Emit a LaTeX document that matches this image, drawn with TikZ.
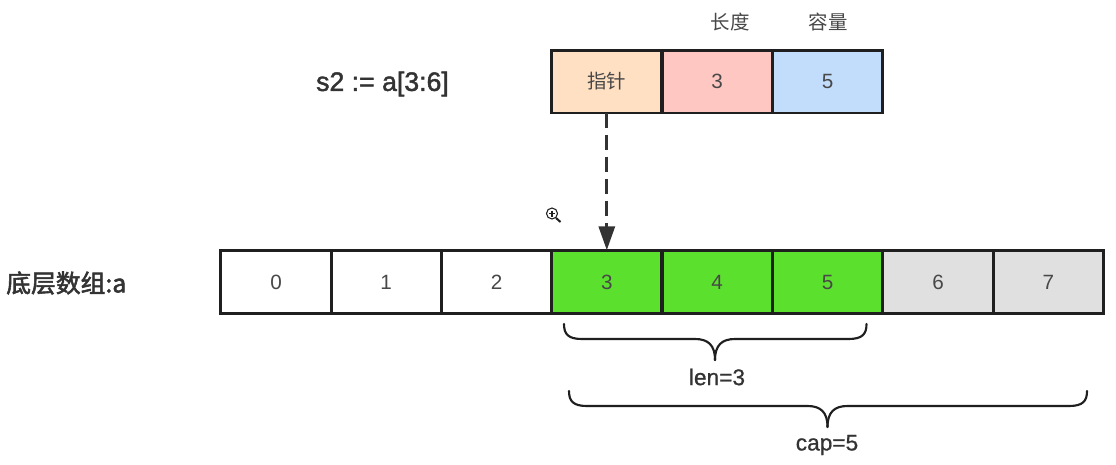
\documentclass[tikz,border=0pt]{standalone}
\usepackage{fontspec}
\setmainfont{Liberation Sans}
\newfontfamily\cjk{Noto Sans CJK SC}
\newfontfamily\cjkfat[FakeBold=2.2]{Noto Sans CJK SC}
\newfontfamily\sansfat[FakeBold=1.6]{Liberation Sans}
\newfontfamily\sansmid[FakeBold=0.8]{Liberation Sans}
\usetikzlibrary{arrows.meta}
\definecolor{ink}{HTML}{1F1F1F}
\definecolor{txt}{HTML}{484848}
\definecolor{head}{HTML}{333333}
\definecolor{peach}{HTML}{FFE0C2}
\definecolor{pinkc}{HTML}{FFC7C2}
\definecolor{bluec}{HTML}{C2DCFB}
\definecolor{greenc}{HTML}{5CE02E}
\definecolor{greyc}{HTML}{E0E0E0}
\tikzset{
  cell/.style={draw=ink,line width=2.2pt,rectangle,outer sep=0pt,inner sep=0pt,
    minimum width=82.7pt,minimum height=47.6pt,text=txt,font=\fontsize{15.5}{17}\selectfont},
  topcell/.style={cell,minimum height=47.2pt},
  cap label/.style={text=txt,inner sep=0pt,font=\cjk\fontsize{14.6}{16}\selectfont},
  side label/.style={text=head,inner sep=0pt},
  brace label/.style={text=head,inner sep=0pt,font=\sansmid\fontsize{17}{20}\selectfont},
  curly/.style={draw=ink,line width=1.6pt,line cap=round,line join=round},
  pointer/.style={draw=head,line width=2.4pt,dash pattern=on 11.25pt off 5.25pt,
    -{Triangle[length=18pt,width=12pt,color=head]}}
}
\newcommand{\curlypath}[5]{% left, right, tip x, top y, tip y
  \draw[curly] (#1,#4) .. controls (#1,#4+10) and (#1+4,#4+15) .. (#1+18,#4+15)
    -- (#3-20,#4+15) .. controls (#3-7,#4+15) and (#3,#4+21) .. (#3,#5);
  \draw[curly] (#2,#4) .. controls (#2,#4+10) and (#2-4,#4+15) .. (#2-18,#4+15)
    -- (#3+20,#4+15) .. controls (#3+7,#4+15) and (#3,#4+21) .. (#3,#5);
}
\begin{document}
\begin{tikzpicture}[x=0.75pt,y=-0.75pt]
\useasboundingbox (0,0) rectangle (1116,464);
\fill[white] (0,0) rectangle (1116,464);
% header labels
\node[cap label] (lenhead) at (730,22) {长度};
\node[cap label] (caphead) at (828,22) {容量};
\node[side label,font=\sansfat\fontsize{20}{24}\selectfont] (slice) at (382.5,84) {s2 := a[3:6]};
\node[side label,anchor=west,font=\cjkfat\fontsize{18.6}{22}\selectfont] (arr) at (6,283) {底层数组:a};
% slice header
\node[topcell,fill=peach,font=\cjk\fontsize{14.6}{16}\selectfont] (ptr) at (606.8,81.5) {指针};
\node[topcell,fill=pinkc] (hlen) at (717.2,81.5) {3};
\node[topcell,fill=bluec] (hcap) at (827.7,81.5) {5};
% array
\node[cell] (c0) at (276,282) {0};
\node[cell] (c1) at (386.2,282) {1};
\node[cell] (c2) at (496.5,282) {2};
\node[cell,fill=greenc] (c3) at (606.8,282) {3};
\node[cell,fill=greenc] (c4) at (717.2,282) {4};
\node[cell,fill=greenc] (c5) at (827.7,282) {5};
\node[cell,fill=greyc] (c6) at (938,282) {6};
\node[cell,fill=greyc] (c7) at (1048.3,282) {7};
% pointer
\draw[pointer] (ptr.south) -- (c3.north);
% magnifier icon
\draw[ink,line width=0.8pt] (552,213.5) circle (5.5);
\draw[ink,line width=0.8pt] (549,213.5) -- (555,213.5) (552,210.5) -- (552,216.5);
\draw[ink,line width=1.5pt] (556,218) -- (560.5,222);
% braces
\curlypath{564}{866.5}{715}{324}{360}
\curlypath{569}{1087}{827.5}{391}{427}
\node[brace label] (len) at (717,377) {len=3};
\node[brace label] (capn) at (827,445) {cap=5};
\end{tikzpicture}
\end{document}
